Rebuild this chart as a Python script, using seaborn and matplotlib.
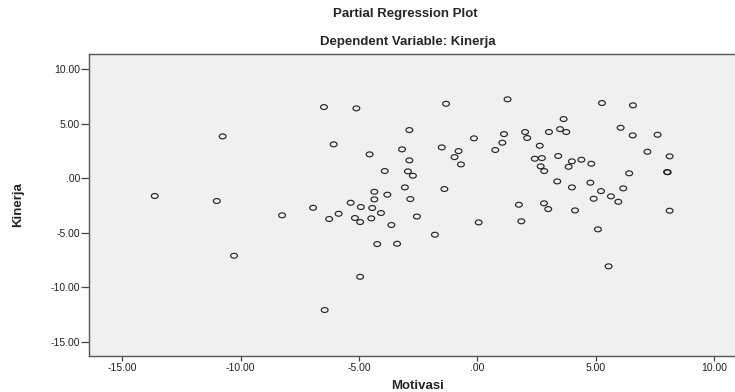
import numpy as np
import pandas as pd
import matplotlib
matplotlib.use("Agg")
import matplotlib.pyplot as plt
import seaborn as sns
from matplotlib.markers import MarkerStyle
from matplotlib.transforms import Affine2D

# Residuals
motivasi = [
    -6.48, -5.11, -2.87, -10.76, -6.07, -3.18, -4.55, -2.87, -3.91, -2.93,
    -2.72, -3.06, -13.63, -4.35, -3.80, -11.01, -4.35, -2.83, -5.35, -4.92,
    -4.44, -6.94, -8.25, -5.86, -4.07, -6.26, -5.17, -4.95, -4.48, -2.55,
    -3.63, -4.23, -3.39, -10.28, -4.95, -6.45,
    -1.32, 1.28, 5.27, 6.58, 3.65, 6.06, 6.57, 7.62, -0.14, 1.13,
    2.02, 2.11, 3.03, 3.50, 3.76, 1.06, 2.64, -1.50, -0.79, -0.96,
    -0.69, 0.76, 2.43, 2.73, 3.42, 4.00, 4.40, 4.82, 2.68, 2.83,
    3.86, 7.19, 8.13, 6.42, 8.02, 8.05, 3.38, -1.39, 4.00, 4.78,
    5.23, 6.17, 4.92, 5.65, 5.96, 1.76, 2.82, 3.00, 4.13, 8.13,
    0.06, 1.86, -1.79, 5.10, 5.55,
]
kinerja = [
    6.54, 6.42, 4.43, 3.85, 3.12, 2.66, 2.20, 1.65, 0.67, 0.64,
    0.24, -0.83, -1.62, -1.23, -1.50, -2.08, -1.93, -1.90, -2.24, -2.63,
    -2.72, -2.70, -3.39, -3.25, -3.18, -3.73, -3.64, -4.01, -3.67, -3.50,
    -4.28, -6.03, -6.00, -7.10, -9.03, -12.08,
    6.84, 7.25, 6.91, 6.70, 5.44, 4.64, 3.94, 4.00, 3.67, 4.06,
    4.25, 3.70, 4.25, 4.52, 4.25, 3.27, 2.99, 2.84, 2.50, 1.95,
    1.28, 2.60, 1.80, 1.86, 2.05, 1.56, 1.71, 1.34, 1.10, 0.67,
    1.06, 2.44, 2.02, 0.46, 0.58, 0.56, -0.28, -0.98, -0.83, -0.40,
    -1.17, -0.92, -1.87, -1.65, -2.15, -2.42, -2.29, -2.82, -2.94, -2.97,
    -4.04, -3.94, -5.17, -4.68, -8.07,
]

x_ticks = [-15, -10, -5, 0, 5, 10]
x_tick_labels = ["-15.00", "-10.00", "-5.00", ".00", "5.00", "10.00"]
y_ticks = [-15, -10, -5, 0, 5, 10]
y_tick_labels = ["-15.00", "-10.00", "-5.00", ".00", "5.00", "10.00"]

df = pd.DataFrame({"Motivasi": motivasi, "Kinerja": kinerja})

sns.set_style("white")
plt.rcParams["font.family"] = ["Liberation Sans", "DejaVu Sans"]

fig = plt.figure(figsize=(7.35, 3.92), dpi=100)
# plot area runs off the right edge, like the cropped SPSS output
ax = fig.add_axes([89 / 735, 36.3 / 392, 658 / 735, 301.4 / 392])
ax.set_facecolor("#f0f0f0")

oval = MarkerStyle("o", transform=Affine2D().scale(1.0, 0.72))
sns.scatterplot(data=df, x="Motivasi", y="Kinerja", ax=ax, marker=oval,
                s=24, facecolor="none", edgecolor="#262626", linewidth=0.85)

ax.set_xlim(-16.41, 11.40)
ax.set_ylim(-16.27, 11.38)
ax.set_xticks(x_ticks)
ax.set_xticklabels(x_tick_labels)
ax.set_yticks(y_ticks)
ax.set_yticklabels(y_tick_labels)
ax.tick_params(axis="x", direction="out", length=3.5, width=0.9, color="#444444",
               labelsize=7.5, labelcolor="#222222", pad=1.5, bottom=True)
ax.tick_params(axis="y", direction="out", length=5.5, width=0.9, color="#444444",
               labelsize=7.5, labelcolor="#222222", pad=1, left=True)
for side in ["left", "bottom", "top"]:
    ax.spines[side].set_color("#555555")
    ax.spines[side].set_linewidth(1.0)
ax.spines["right"].set_visible(False)

ax.set_xlabel("")
ax.set_ylabel("")
fig.text(418 / 735, 1 - 386 / 392, "Motivasi", ha="center", va="center",
         fontsize=9.5, fontweight="bold")
fig.text(18 / 735, 1 - 205 / 392, "Kinerja", ha="center", va="center",
         rotation=90, fontsize=9.5, fontweight="bold")

fig.text(405 / 735, 1 - 14 / 392, "Partial Regression Plot", ha="center",
         va="center", fontsize=9.5, fontweight="bold")
fig.text(408 / 735, 1 - 42 / 392, "Dependent Variable: Kinerja", ha="center",
         va="center", fontsize=9.5, fontweight="bold")

fig.savefig("out.png", dpi=100, facecolor="white")
